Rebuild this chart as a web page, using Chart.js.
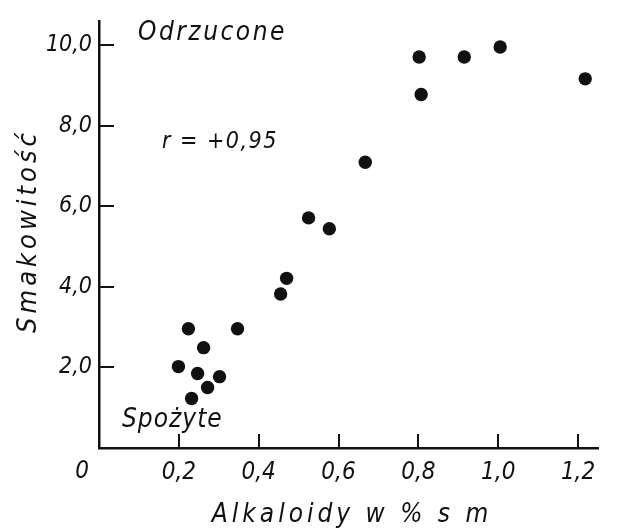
<!DOCTYPE html>
<html lang="pl">
<head>
<meta charset="UTF-8">
<title>Smakowitość a zawartość alkaloidów</title>
<script src="https://cdn.jsdelivr.net/npm/chart.js"></script>
<style>
  body { margin: 0; background: #fff; }
  .wrap { width: 644px; height: 529px; position: relative; }
</style>
</head>
<body>
<div class="wrap"><canvas id="wykres"></canvas></div>
<script>
// alkaloidy w % s.m. (oś x) i ocena smakowitości (oś y) dla każdej próby
const alkaloidy   = [0.199, 0.224, 0.232, 0.247, 0.262, 0.272, 0.302, 0.347, 0.455, 0.470, 0.525, 0.577, 0.667, 0.802, 0.807, 0.915, 1.005, 1.218];
const smakowitosc = [2.02,  2.96,  1.23,  1.85,  2.49,  1.50,  1.77,  2.96,  3.82,  4.21,  5.71,  5.44,  7.09,  9.70,  8.77,  9.70,  9.95,  9.16];
const xTicks = [0.2, 0.4, 0.6, 0.8, 1.0, 1.2];
const yTicks = [2, 4, 6, 8, 10];

const FONT = "'DejaVu Sans Condensed', 'DejaVu Sans', sans-serif";
const INK = '#111';

const punkty = alkaloidy.map((a, i) => ({ x: a, y: smakowitosc[i] }));
const przecinek = v => Number(v).toFixed(1).replace('.', ',');

function napis(ctx, text, px, py, size, spacing, align) {
    ctx.font = `italic ${size}px ${FONT}`;
    ctx.letterSpacing = spacing + 'px';
    ctx.textAlign = align;
    ctx.textBaseline = 'alphabetic';
    ctx.fillText(text, px, py);
}

// kreski podziałki do środka wykresu + opisy
const opisy = {
    id: 'opisy',
    afterDraw(chart) {
        const { ctx, chartArea, scales: { x, y } } = chart;
        ctx.save();
        ctx.strokeStyle = INK;
        ctx.lineWidth = 2;
        xTicks.forEach(v => {
            const px = Math.round(x.getPixelForValue(v));
            ctx.beginPath();
            ctx.moveTo(px, chartArea.bottom);
            ctx.lineTo(px, chartArea.bottom - 14);
            ctx.stroke();
        });
        yTicks.forEach(v => {
            const py = Math.round(y.getPixelForValue(v));
            ctx.beginPath();
            ctx.moveTo(chartArea.left, py);
            ctx.lineTo(chartArea.left + 15, py);
            ctx.stroke();
        });

        ctx.fillStyle = INK;
        napis(ctx, 'Odrzucone', 138, 40, 26, 2.5, 'left');
        napis(ctx, 'r = +0,95', 162, 148, 23, 1.5, 'left');
        napis(ctx, 'Spożyte', 122, 427, 26, 1, 'left');
        napis(ctx, '0', x.getPixelForValue(0) - 17, 478, 24, 0, 'center');
        napis(ctx, 'Alkaloidy w % s m', 352, 522, 26, 4, 'center');

        ctx.translate(36, 231);
        ctx.rotate(-Math.PI / 2);
        napis(ctx, 'Smakowitość', 0, 0, 27, 4, 'center');
        ctx.restore();
    }
};

new Chart(document.getElementById('wykres'), {
    type: 'scatter',
    data: {
        datasets: [{
            label: 'Smakowitość',
            data: punkty,
            backgroundColor: INK,
            borderWidth: 0,
            pointRadius: 6.7,
            pointHoverRadius: 6.7
        }]
    },
    options: {
        responsive: true,
        maintainAspectRatio: false,
        animation: false,
        layout: { padding: { top: 18, right: 46, left: 0, bottom: 0 } },
        plugins: { legend: { display: false }, tooltip: { enabled: false } },
        scales: {
            x: {
                type: 'linear',
                min: 0,
                max: 1.25,
                afterFit: s => { s.height = 81; },
                afterBuildTicks: s => { s.ticks = xTicks.map(v => ({ value: v })); },
                grid: { display: false, drawTicks: false },
                border: { display: true, color: INK, width: 2.5 },
                ticks: {
                    autoSkip: false,
                    maxRotation: 0,
                    padding: 10,
                    color: INK,
                    font: { family: FONT, size: 24, style: 'italic' },
                    callback: przecinek
                }
            },
            y: {
                type: 'linear',
                min: 0,
                max: 10.6,
                afterFit: s => { s.width = 99; },
                afterBuildTicks: s => { s.ticks = yTicks.map(v => ({ value: v })); },
                grid: { display: false, drawTicks: false },
                border: { display: true, color: INK, width: 2.5 },
                ticks: {
                    padding: 7,
                    color: INK,
                    font: { family: FONT, size: 23, style: 'italic' },
                    callback: przecinek
                }
            }
        }
    },
    plugins: [opisy]
});
</script>
</body>
</html>
